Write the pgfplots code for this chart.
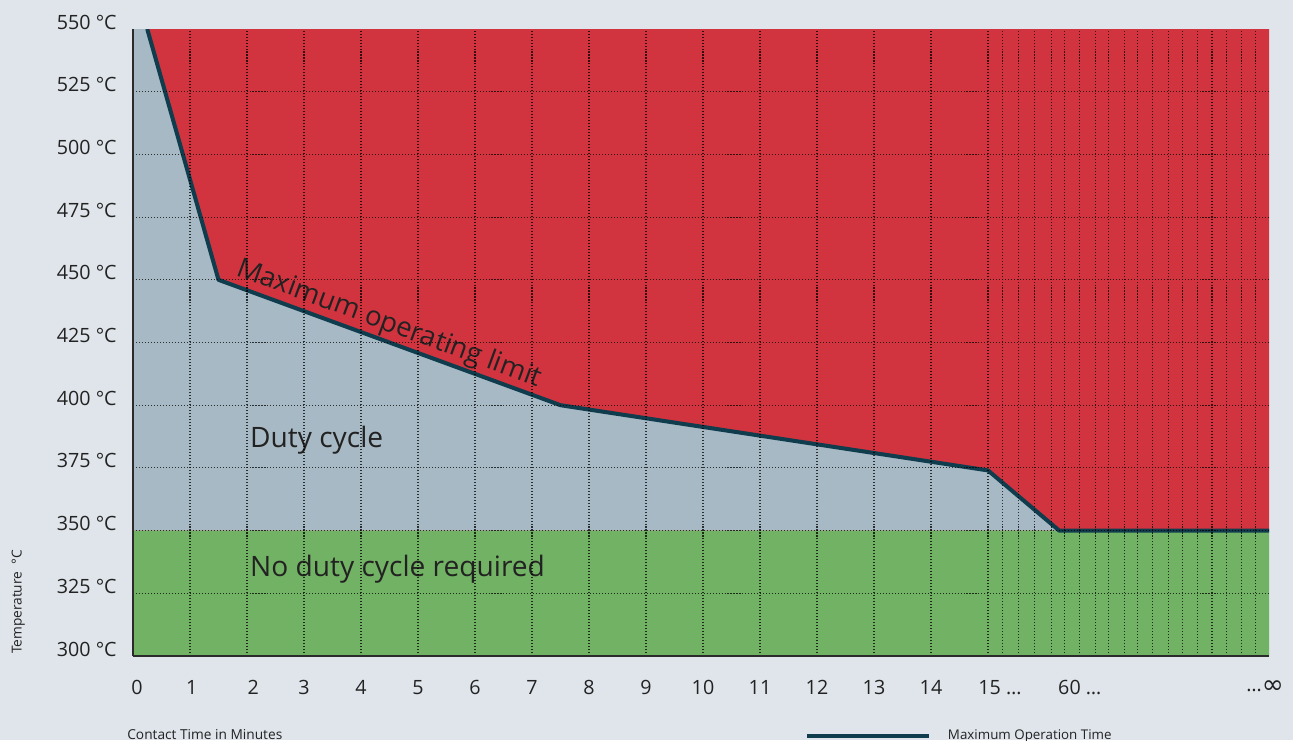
\documentclass[border=0pt]{standalone}
\usepackage{fontspec}
\setmainfont{Open Sans}
\newfontfamily\dejavu{DejaVu Sans}
\usepackage{pgfplots}
\pgfplotsset{compat=1.18}
\definecolor{bg}{HTML}{DFE5EB}
\definecolor{zred}{HTML}{D1343F}
\definecolor{zblue}{HTML}{A7B9C4}
\definecolor{zgreen}{HTML}{72B264}
\definecolor{zline}{HTML}{0F3D4E}
\definecolor{axl}{HTML}{2B2B2B}
\definecolor{txt}{HTML}{222222}
\begin{document}
\begin{tikzpicture}
\path[use as bounding box] (0,0) rectangle (25.86,14.8);
\fill[bg] (0,0) rectangle (25.86,14.8);
\clip (0,0) rectangle (25.86,14.8);
\begin{axis}[
  axis on top,
  at={(2.66cm,1.68cm)}, anchor=south west,
  scale only axis, width=22.72cm, height=12.54cm,
  xmin=0, xmax=19.93, ymin=300, ymax=550,
  axis lines*=left,
  axis line style={draw=axl, line width=1.1pt},
  major tick length=0pt, minor tick length=0pt,
  xtick={0.07,1.03,2.11,3,4,5,6,7,8,9,10,11,12,13,14,15.21,16.61,19.86},
  xticklabels={0,1,2,3,4,5,6,7,8,9,10,11,12,13,14,15 …,60 …,…{\dejavu\fontsize{15}{16}\selectfont\raisebox{-0.06em}{∞}}},
  minor xtick={1,2,3,4,5,6,7,8,9,10,11,12,13,14,15,15.26,15.54,15.81,16.11,16.35,16.61,16.88,17.12,17.39,17.63,17.89,18.16,18.42,18.67,18.93,19.19,19.44,19.70},
  ytick={300,325,350,375,400,425,450,475,500,525,550},
  yticklabels={300 °C,325 °C,350 °C,375 °C,400 °C,425 °C,450 °C,475 °C,500 °C,525 °C,550 °C},
  minor ytick={325,350,375,400,425,450,475,500,525},
  xminorgrids, yminorgrids,
  minor grid style={draw=black, opacity=0.75, line width=0.6pt, dash pattern=on 0.6pt off 1.1pt},
  xticklabel style={anchor=north, inner sep=0pt, yshift=-0.48cm, font=\fontsize{11.2}{13}\selectfont, text=txt},
  yticklabel style={anchor=east, inner sep=0pt, xshift=-0.32cm, yshift=0.14cm, font=\fontsize{11.2}{13}\selectfont, text=txt},
  xlabel={Contact Time in Minutes},
  xlabel style={at={(axis description cs:-0.0053,-0.1324)}, anchor=base west, inner sep=0pt, font=\fontsize{7.8}{9.4}\selectfont, text=txt},
  ylabel={Temperature\enspace °C},
  ylabel style={at={(axis description cs:-0.101,0.086)}, anchor=center, inner sep=0pt, font=\fontsize{7.8}{9.4}\selectfont, text=txt},
  legend style={at={(axis description cs:0.5915,-0.128)}, anchor=west, draw=none, fill=none, inner sep=0pt, outer sep=0pt, column sep=0.34cm, nodes={inner sep=0pt}, font=\fontsize{7.6}{9.2}\selectfont, text=txt},
  legend image code/.code={\draw[#1] (0cm,0cm) -- (2.44cm,0cm);},
]
% regions
\addplot[fill=zred, draw=none, forget plot] coordinates {(0,350) (19.93,350) (19.93,550) (0,550) (0,350)};
\addplot[fill=zblue, draw=none, forget plot] coordinates {(0,350) (0,550) (0.25,550) (1.5,450) (7.5,400) (15,374) (16.25,350) (0,350)};
\addplot[fill=zgreen, draw=none, forget plot] coordinates {(0,300) (19.93,300) (19.93,350) (0,350) (0,300)};
% maximum operation time
\addplot[draw=zline, line width=2.3pt, line join=round] coordinates {(0.25,550) (1.5,450) (7.5,400) (15,374) (16.25,350) (19.93,350)};
\addlegendentry{Maximum Operation Time}
\node[anchor=base, rotate=-20.3, font=\fontsize{15.6}{18}\selectfont, text=txt, inner sep=0pt] at (axis cs:4.45,429.6) {Maximum operating limit};
\node[anchor=base west, font=\fontsize{16}{19}\selectfont, text=txt, inner sep=0pt] at (axis cs:2.05,383.3) {Duty cycle};
\node[anchor=base west, font=\fontsize{16}{19}\selectfont, text=txt, inner sep=0pt] at (axis cs:2.05,331.8) {No duty cycle required};
\end{axis}
\end{tikzpicture}
\end{document}
